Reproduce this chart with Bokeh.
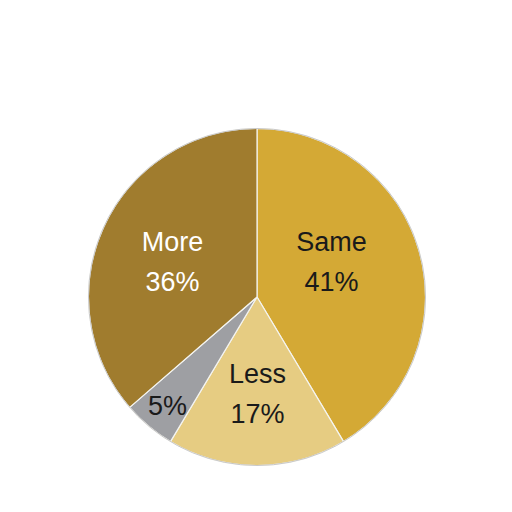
import numpy as np
from bokeh.plotting import figure
from bokeh.models import Range1d, ColumnDataSource
from bokeh.core.properties import value
from bokeh.embed import file_html
from bokeh.resources import INLINE

categories = ["Same", "Less", "", "More"]
shares = [41, 17, 5, 36]
pct_labels = ["41%", "17%", "5%", "36%"]
colors = ["#D4A935", "#E6CC82", "#9E9FA3", "#A07C2E"]
name_colors = ["#1a1a1a", "#1a1a1a", "#1a1a1a", "#FFFFFF"]

# layout: label centres (image px) per slice
label_cx = [331, 257, 167, 172]
label_cy = [261, 393, 405, 261]

W = H = 496
p = figure(width=W, height=H, output_backend="svg", toolbar_location=None,
           x_range=Range1d(0, 496), y_range=Range1d(16, 512), min_border=0)
p.axis.visible = False
p.grid.visible = False
p.outline_line_color = None
p.background_fill_color = "white"
p.border_fill_color = "white"

cx, cy_img, r = 256.5, 296.5, 168.5
cy = 512 - cy_img

frac = np.array(shares, dtype=float) / np.sum(shares)
cum = np.concatenate([[0], np.cumsum(frac)])
start = np.radians(90 - cum[1:] * 360)
end = np.radians(90 - cum[:-1] * 360)

src = ColumnDataSource(dict(start=start, end=end, color=colors))
p.wedge(x=cx, y=cy, radius=r, start_angle="start", end_angle="end",
        fill_color="color", line_color="#F4F4F0", line_width=1.2, source=src)
p.circle(x=[cx], y=[cy], radius=r, fill_color=None, line_color="#C8C8C8", line_width=1)

font = value("Liberation Sans")
fs = "27px"
for i in range(len(shares)):
    x = label_cx[i]
    y = 512 - label_cy[i]
    if categories[i]:
        p.text(x=[x], y=[y + 20], text=[categories[i]], text_font=font,
               text_font_size=fs, text_color=name_colors[i],
               text_align="center", text_baseline="middle")
        p.text(x=[x], y=[y - 20], text=[pct_labels[i]], text_font=font,
               text_font_size=fs, text_color=name_colors[i],
               text_align="center", text_baseline="middle")
    else:
        p.text(x=[x], y=[y], text=[pct_labels[i]], text_font=font,
               text_font_size=fs, text_color=name_colors[i],
               text_align="center", text_baseline="middle")

open("out.html", "w").write(file_html(p, INLINE))
